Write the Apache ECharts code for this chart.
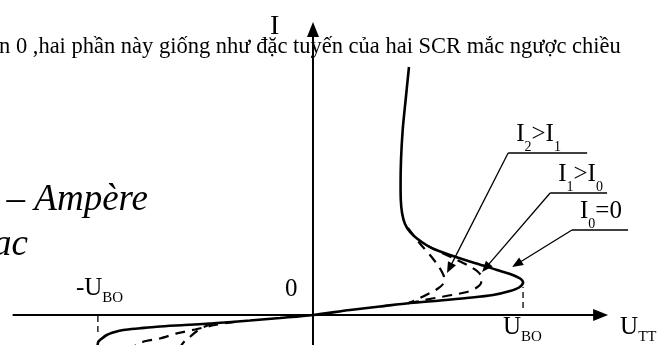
<!DOCTYPE html>
<html>
<head>
<meta charset="utf-8">
<script src="https://cdn.jsdelivr.net/npm/echarts@6/dist/echarts.min.js"></script>
<style>
  html, body { margin: 0; padding: 0; background: #fff; }
  #chart { width: 664px; height: 345px; }
</style>
</head>
<body>
<div id="chart"></div>
<script>
// Volt–ampere characteristic of a triac. U_TT in volts, I in mA.
const U_BO = 100;        // forward breakover voltage
const U_BO_NEG = -102.4; // reverse breakover voltage

// Gate current I0 = 0 (solid): third quadrant -> origin -> breakover nose -> on-state branch
const curveGate0 = [
  [-102.6, -3.1], [-102.2, -2.67], [-101.4, -2.5], [-98.2, -2.0], [-94.3, -1.7],
  [-90.3, -1.5], [-82.4, -1.33], [-74.4, -1.17], [-61.0, -1.0], [-47.5, -0.83],
  [-30.0, -0.55], [-15.7, -0.3], [0, 0],
  [17.6, 0.5], [31.9, 0.85], [46.2, 1.2], [60.5, 1.45], [73.3, 1.7], [85.7, 2.0],
  [93.8, 2.4], [98.1, 2.75], [100, 3.25],
  [98.6, 3.65], [93.8, 4.1], [87.6, 4.5], [81.0, 4.95], [72.4, 5.5], [65.2, 6.0],
  [58.1, 6.55], [54.3, 6.95], [49.5, 7.65], [46.2, 8.3], [43.8, 9.1], [42.4, 10.2],
  [41.8, 11.5], [41.7, 13.0], [41.9, 15.5], [42.7, 18.5], [44.1, 21.5], [45.7, 24.8]
];

// Gate current I1 > I0 (dashed)
const curveGate1 = [
  [54.3, 6.95], [60.5, 6.3], [67.6, 5.6], [73.8, 4.95], [78.1, 4.4], [80.2, 3.8],
  [80.0, 3.2], [77.6, 2.7], [73.3, 2.3], [66.2, 2.0], [58.1, 1.7], [51.0, 1.4], [43.8, 1.15]
];

// Gate current I2 > I1 (dashed)
const curveGate2 = [
  [45.2, 8.7], [48.1, 7.9], [51.9, 6.9], [55.7, 6.0], [59.0, 5.1], [61.4, 4.3],
  [62.6, 3.6], [61.9, 3.1], [59.5, 2.65], [55.7, 2.2], [51.0, 1.7], [45.2, 1.15]
];

// Third-quadrant parts of the gated curves
const curveGate1Neg = [
  [-37.1, -0.68], [-46.7, -1.0], [-56.2, -1.45], [-64.8, -1.84], [-72.9, -2.35],
  [-79.0, -2.58], [-82.4, -2.8], [-84.8, -3.1]
];
const curveGate2Neg = [
  [-47.6, -0.85], [-51.9, -1.2], [-55.2, -1.6], [-58.1, -2.1], [-61.0, -2.6], [-62.9, -3.1]
];

// Breakover drop lines: [U, I from, I to]
const breakoverMarks = [[U_BO, 0.7, 2.8], [U_BO_NEG, -0.1, -1.9]];

// Axis arrows: [U start, I start, U end, I end]
const axisArrows = [[-143, 0, 140.5, 0], [0, -3.5, 0, 29.3]];

// Curve call-outs: underline end, elbow, arrow tip  (U, I pairs)
const leaders = [
  [130.5, 16.2, 92.9, 16.2, 63.8, 4.2],
  [140.0, 12.2, 112.9, 12.2, 80.5, 4.3],
  [150.0, 8.5, 123.3, 8.5, 94.8, 4.8]
];
// Call-out texts; second entry 1 marks a subscript
const leaderTexts = [
  [['I', 0], ['2', 1], ['>', 0], ['I', 0], ['1', 1]],
  [['I', 0], ['1', 1], ['>', 0], ['I', 0], ['0', 1]],
  [['I', 0], ['0', 1], ['=0', 0]]
];

// Axis texts: anchor point in data units and the runs of text
const axisTextAnchors = [[0, 29.3], [0, 0], [U_BO_NEG, 0], [U_BO, 0], [140.5, 0]];
const axisTexts = [
  [['I', 0]],
  [['0', 0]],
  [['-U', 0], ['BO', 1]],
  [['U', 0], ['BO', 1]],
  [['U', 0], ['TT', 1]]
];
// pixel offsets of each axis text (left edge, baseline) from its anchor
const axisTextOffsets = [[-43, 14], [-28, -17], [-22, -18], [-20, 21], [12, 21]];

const SERIF = '"Liberation Serif", "Times New Roman", serif';
const INK = '#000';
const MID = 0.34; // baseline sits this many em below the middle line

const measureCtx = document.createElement('canvas').getContext('2d');
function textWidth(t, font) {
  measureCtx.font = font;
  return measureCtx.measureText(t).width;
}

function fontOf(size, italic) {
  return (italic ? 'italic ' : '') + size + 'px ' + SERIF;
}

// Lay out text runs with subscripts from a left edge and a baseline
function runElements(parts, x0, baseY, size, subSize, drop, italic) {
  const els = [];
  let x = x0;
  parts.forEach(function (p) {
    const sub = p[1] === 1;
    const fs = sub ? subSize : size;
    const font = fontOf(fs, italic);
    const by = baseY + (sub ? drop : 0);
    els.push({
      type: 'text', x: x, y: by - MID * fs,
      style: { text: p[0], font: font, fill: INK, align: 'left', verticalAlign: 'middle' }
    });
    x += textWidth(p[0], font);
  });
  return els;
}

function arrowElements(p1, p2, headLen, headWid, lw) {
  const dx = p2[0] - p1[0], dy = p2[1] - p1[1];
  const L = Math.hypot(dx, dy);
  const ux = dx / L, uy = dy / L;
  const bx = p2[0] - ux * headLen, by = p2[1] - uy * headLen;
  const nx = -uy * headWid / 2, ny = ux * headWid / 2;
  return [
    { type: 'line', shape: { x1: p1[0], y1: p1[1], x2: bx + ux, y2: by + uy },
      style: { stroke: INK, lineWidth: lw } },
    { type: 'polygon', shape: { points: [[p2[0], p2[1]], [bx + nx, by + ny], [bx - nx, by - ny]] },
      style: { fill: INK } }
  ];
}

const chart = echarts.init(document.getElementById('chart'));

const solidStyle = { color: INK, width: 2.6 };
const dashStyle = { color: INK, width: 2.2, type: [10, 7] };

function curveSeries(data, lineStyle) {
  return {
    type: 'line', data: data, symbol: 'none', showSymbol: false, smooth: 0.3,
    clip: false, lineStyle: lineStyle, z: 3, silent: true
  };
}

const titleFont = fontOf(37, true);
const titleLine1 = '– Ampère';
const titleLine2 = 'ac';

chart.setOption({
  animation: false,
  backgroundColor: '#fff',
  grid: { left: 0, right: 0, top: 0, bottom: 0 },
  xAxis: { type: 'value', min: -149, max: 167.1, show: false },
  yAxis: { type: 'value', min: -3, max: 31.5, show: false },
  graphic: [
    { type: 'text', left: -1, top: 36,
      style: { text: 'n 0 ,hai phần này giống như đặc tuyến của hai SCR mắc ngược chiều',
               font: fontOf(22.5, false), fill: INK } },
    { type: 'text', left: 148 - textWidth(titleLine1, titleFont), top: 182,
      style: { text: titleLine1, font: titleFont, fill: INK } },
    { type: 'text', left: 28 - textWidth(titleLine2, titleFont), top: 227,
      style: { text: titleLine2, font: titleFont, fill: INK } }
  ],
  series: [
    // U and I axes
    {
      type: 'custom', data: axisArrows, silent: true, z: 2,
      renderItem: function (params, api) {
        const a = api.coord([api.value(0), api.value(1)]);
        const b = api.coord([api.value(2), api.value(3)]);
        return { type: 'group', children: arrowElements(a, b, 15, 12, 2) };
      }
    },
    // breakover drop lines
    {
      type: 'custom', data: breakoverMarks, silent: true, z: 2,
      renderItem: function (params, api) {
        const a = api.coord([api.value(0), api.value(1)]);
        const b = api.coord([api.value(0), api.value(2)]);
        return { type: 'line', shape: { x1: a[0], y1: a[1], x2: b[0], y2: b[1] },
                 style: { stroke: INK, lineWidth: 1.3, lineDash: [6, 4] } };
      }
    },
    curveSeries(curveGate0, solidStyle),
    curveSeries(curveGate1, dashStyle),
    curveSeries(curveGate2, dashStyle),
    curveSeries(curveGate1Neg, dashStyle),
    curveSeries(curveGate2Neg, dashStyle),
    // call-outs for the gate currents
    {
      type: 'custom', data: leaders, silent: true, z: 4,
      renderItem: function (params, api) {
        const e = api.coord([api.value(0), api.value(1)]);
        const k = api.coord([api.value(2), api.value(3)]);
        const t = api.coord([api.value(4), api.value(5)]);
        const kids = [
          { type: 'line', shape: { x1: e[0], y1: e[1], x2: k[0], y2: k[1] },
            style: { stroke: INK, lineWidth: 1.3 } }
        ].concat(arrowElements(k, t, 11, 9, 1.3))
         .concat(runElements(leaderTexts[params.dataIndex], k[0] + 8, k[1] - 10, 25, 14, 9, false));
        return { type: 'group', children: kids };
      }
    },
    // axis texts
    {
      type: 'custom', data: axisTextAnchors, silent: true, z: 4,
      renderItem: function (params, api) {
        const p = api.coord([api.value(0), api.value(1)]);
        const off = axisTextOffsets[params.dataIndex];
        const size = params.dataIndex === 0 ? 28 : 25;
        return { type: 'group',
                 children: runElements(axisTexts[params.dataIndex], p[0] + off[0], p[1] + off[1], size, 15, 6, false) };
      }
    }
  ]
});
</script>
</body>
</html>
